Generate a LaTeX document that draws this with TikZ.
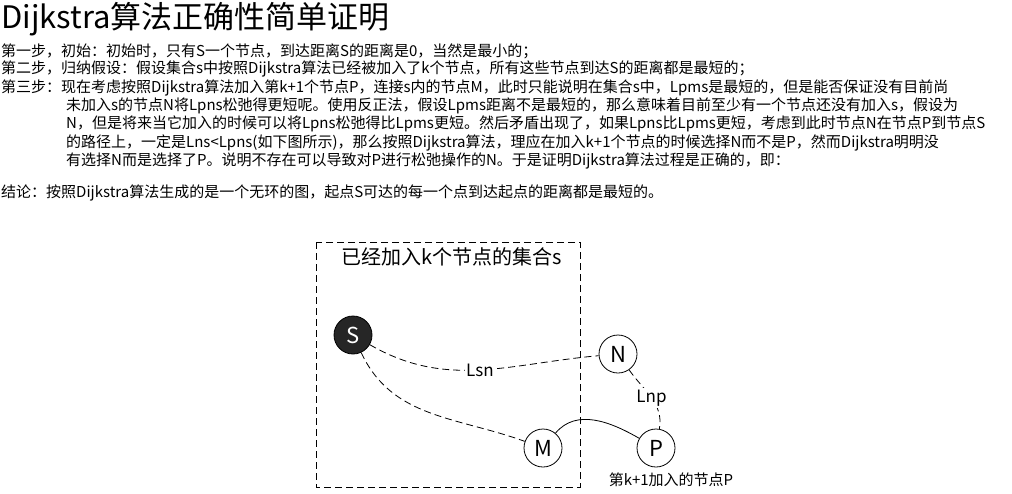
\documentclass[tikz,border=0pt]{standalone}
\usepackage{fontspec}
\setmainfont{Noto Sans CJK SC}
\usetikzlibrary{positioning}
\tikzset{
  txt/.style={anchor=west,inner sep=0pt,font=\fontsize{15}{16}\selectfont},
  vertex/.style={circle,draw,thick,minimum size=38pt,inner sep=0pt,font=\fontsize{22}{24}\selectfont},
  link/.style={thick,dash pattern=on 7pt off 4pt},
}
\begin{document}
\begin{tikzpicture}[x=1pt,y=-1pt]
    \useasboundingbox (0,0) rectangle (1012,493);
    % text
    \node[anchor=west,inner sep=0pt,font=\fontsize{31}{33}\selectfont] (title) at (1,19) {Dijkstra算法正确性简单证明};
    \node[txt] (l1) at (1,51) {第一步，初始：初始时，只有S一个节点，到达距离S的距离是0，当然是最小的；};
    \node[txt] (l2) at (1,69) {第二步，归纳假设：假设集合s中按照Dijkstra算法已经被加入了k个节点，所有这些节点到达S的距离都是最短的；};
    \node[txt] (l3) at (1,88) {第三步：现在考虑按照Dijkstra算法加入第k+1个节点P，连接s内的节点M，此时只能说明在集合s中，Lpms是最短的，但是能否保证没有目前尚};
    \node[txt] (l4) at (66,106) {未加入s的节点N将Lpns松弛得更短呢。使用反正法，假设Lpms距离不是最短的，那么意味着目前至少有一个节点还没有加入s，假设为};
    \node[txt] (l5) at (66,124) {N，但是将来当它加入的时候可以将Lpns松弛得比Lpms更短。然后矛盾出现了，如果Lpns比Lpms更短，考虑到此时节点N在节点P到节点S};
    \node[txt] (l6) at (66,143) {的路径上，一定是Lns<Lpns(如下图所示)，那么按照Dijkstra算法，理应在加入k+1个节点的时候选择N而不是P，然而Dijkstra明明没};
    \node[txt] (l7) at (66,161) {有选择N而是选择了P。说明不存在可以导致对P进行松弛操作的N。于是证明Dijkstra算法过程是正确的，即：};
    \node[txt] (l8) at (1,193) {结论：按照Dijkstra算法生成的是一个无环的图，起点S可达的每一个点到达起点的距离都是最短的。};
    % diagram
    \draw[link] (316,242) rectangle (580,487);
    \node[font=\fontsize{20}{22}\selectfont] (setlbl) at (452,257) {已经加入k个节点的集合s};
    \node[vertex,fill=black!85,text=white] (S) at (353,335) {S};
    \node[vertex] (N) at (618,354) {N};
    \node[vertex] (M) at (543,448) {M};
    \node[vertex] (P) at (656,448) {P};
    \node[font=\fontsize{15}{16}\selectfont] (cap) at (671,480) {第k+1加入的节点P};
    \draw[link] (S) to[out=-30,in=185] node[fill=white,inner sep=1pt,font=\fontsize{17}{19}\selectfont]{Lsn} (N);
    \draw[link] (S) to[out=-65,in=160] (M);
    \draw[link] (N) to[out=-55,in=80] node[fill=white,inner sep=2pt,font=\fontsize{17}{19}\selectfont]{Lnp} (P);
    \draw[thick] (M) to[out=50,in=150] (P);
\end{tikzpicture}
\end{document}
